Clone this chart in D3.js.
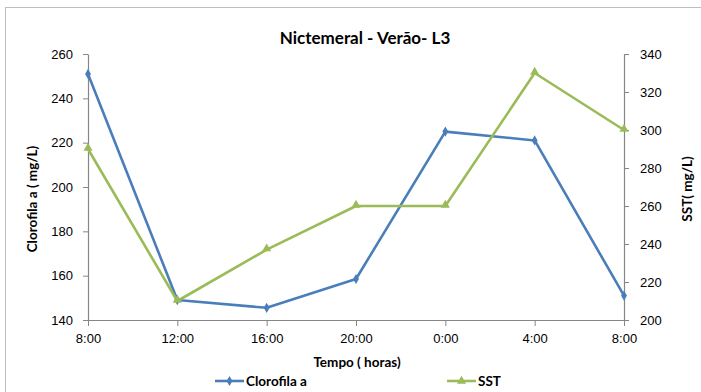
<!DOCTYPE html>
<html>
<head>
<meta charset="utf-8">
<script src="https://cdn.jsdelivr.net/npm/d3@7"></script>
<style>
  html, body { margin: 0; padding: 0; background: #fff; }
  svg { display: block; font-family: Lato, "Open Sans", sans-serif; }
</style>
</head>
<body>
<svg id="chart" width="701" height="392"></svg>
<script>
// Sampling times over the 24 h cycle
const horas = ["8:00", "12:00", "16:00", "20:00", "0:00", "4:00", "8:00"];
// Chlorophyll a (left axis)
const clorofila = [251, 149, 145.5, 158.5, 225, 221, 151];
// Total suspended solids (right axis)
const sst = [290, 210, 237, 260, 260, 330, 300];
const leftTicks = [140, 160, 180, 200, 220, 240, 260];
const rightTicks = [200, 220, 240, 260, 280, 300, 320, 340];

const svg = d3.select("#chart");
const m = { left: 88, right: 624, top: 54, bottom: 320 };
const axisColor = "#868686";
const blue = "#4A7EBB", green = "#9BBB59";

// chart frame
svg.append("rect").attr("x", 5.5).attr("y", 7.5).attr("width", 720).attr("height", 420)
  .attr("fill", "none").attr("stroke", "#bfbfbf").attr("stroke-width", 1);

const x = d3.scalePoint().domain(d3.range(horas.length)).range([m.left, m.right]);
const yL = d3.scaleLinear().domain([140, 260]).range([m.bottom, m.top]);
const yR = d3.scaleLinear().domain([200, 340]).range([m.bottom, m.top]);

function styleAxis(g) {
  g.select(".domain").attr("stroke", axisColor).attr("stroke-width", 1.2);
  g.selectAll(".tick line").attr("stroke", axisColor).attr("stroke-width", 1);
  g.selectAll(".tick text").attr("fill", "#000").attr("font-size", 13);
}

svg.append("g").attr("transform", `translate(${m.left},0)`)
  .call(d3.axisLeft(yL).tickValues(leftTicks).tickSize(5).tickSizeOuter(0).tickPadding(10))
  .call(styleAxis);

svg.append("g").attr("transform", `translate(${m.right},0)`)
  .call(d3.axisRight(yR).tickValues(rightTicks).tickSize(5).tickSizeOuter(0).tickPadding(11))
  .call(styleAxis);

svg.append("g").attr("transform", `translate(0,${m.bottom})`)
  .call(d3.axisBottom(x).tickFormat(i => horas[i]).tickSize(6).tickSizeOuter(0).tickPadding(8))
  .call(styleAxis);

// series lines
const lineL = d3.line().x((d, i) => x(i)).y(d => yL(d));
const lineR = d3.line().x((d, i) => x(i)).y(d => yR(d));

svg.append("path").datum(clorofila).attr("d", lineL)
  .attr("fill", "none").attr("stroke", blue).attr("stroke-width", 2.6).attr("stroke-linejoin", "round");
svg.append("path").datum(sst).attr("d", lineR)
  .attr("fill", "none").attr("stroke", green).attr("stroke-width", 2.6).attr("stroke-linejoin", "round");

const diamond = d3.symbol().type(d3.symbolDiamond).size(30);
const triangle = d3.symbol().type(d3.symbolTriangle).size(36);

svg.append("g").selectAll("path").data(clorofila).join("path")
  .attr("d", diamond).attr("fill", blue)
  .attr("transform", (d, i) => `translate(${x(i)},${yL(d)})`);
svg.append("g").selectAll("path").data(sst).join("path")
  .attr("d", triangle).attr("fill", green)
  .attr("transform", (d, i) => `translate(${x(i)},${yR(d) - 1})`);

// titles
svg.append("text").attr("x", 365).attr("y", 44).attr("text-anchor", "middle")
  .attr("font-size", 17).attr("font-weight", "bold").text("Nictemeral - Verão- L3");
svg.append("text").attr("transform", "translate(37,199) rotate(-90)").attr("text-anchor", "middle")
  .attr("font-size", 13.5).attr("font-weight", "bold").text("Clorofila a ( mg/L)");
svg.append("text").attr("transform", "translate(692,189) rotate(-90)").attr("text-anchor", "middle")
  .attr("font-size", 13.5).attr("font-weight", "bold").text("SST( mg/L)");
svg.append("text").attr("x", 357).attr("y", 367).attr("text-anchor", "middle")
  .attr("font-size", 13.5).attr("font-weight", "bold").text("Tempo ( horas)");

// legend
const legend = [
  { label: "Clorofila a", color: blue, sym: diamond, x0: 215 },
  { label: "SST", color: green, sym: triangle, x0: 447 }
];
const lg = svg.append("g").selectAll("g").data(legend).join("g")
  .attr("transform", d => `translate(${d.x0},381)`);
lg.append("line").attr("x1", 0).attr("x2", 29).attr("stroke", d => d.color).attr("stroke-width", 2.6);
lg.append("path").attr("d", d => d.sym()).attr("fill", d => d.color).attr("transform", "translate(14.5,0)");
lg.append("text").attr("x", 31).attr("y", 5).attr("font-size", 13.5).attr("font-weight", "bold")
  .text(d => d.label);
</script>
</body>
</html>
